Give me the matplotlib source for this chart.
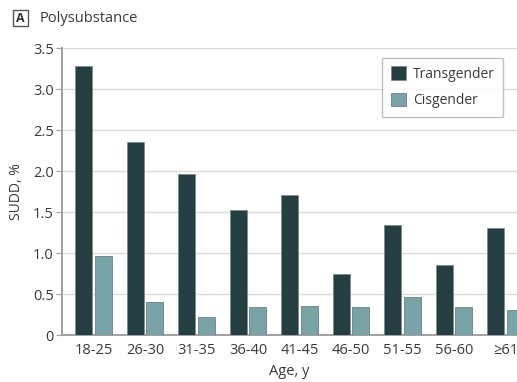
import matplotlib.pyplot as plt
import numpy as np
from matplotlib.patches import Rectangle

plt.rcParams["font.family"] = ["Open Sans", "DejaVu Sans"]

age_groups = ["18-25", "26-30", "31-35", "36-40", "41-45", "46-50", "51-55", "56-60", "\u226561"]
transgender = [3.28, 2.36, 1.96, 1.52, 1.71, 0.75, 1.34, 0.85, 1.30]
cisgender = [0.97, 0.40, 0.22, 0.34, 0.35, 0.34, 0.46, 0.34, 0.30]

text_color = "#3a3a3a"
trans_color = "#253e42"
cis_color = "#7aa3a8"

fig = plt.figure(figsize=(5.17, 3.82), dpi=100)
ax = fig.add_axes([0.12, 0.123, 0.88, 0.751])

x = np.arange(len(age_groups))
width = 0.33
ax.bar(x - 0.19, transgender, width, color=trans_color, edgecolor="#7f8c8d",
       linewidth=0.6, label="Transgender", zorder=3)
ax.bar(x + 0.19, cisgender, width, color=cis_color, edgecolor="#6a7f82",
       linewidth=0.6, label="Cisgender", zorder=3)

ax.set_xlim(-0.61, 8.22)
ax.set_ylim(0, 3.5)
ax.set_yticks(np.arange(0, 3.51, 0.5))
ax.set_yticklabels(["0", "0.5", "1.0", "1.5", "2.0", "2.5", "3.0", "3.5"])
ax.set_xticks(x)
ax.set_xticklabels(age_groups)
ax.grid(axis="y", color="#dcdcdc", linewidth=1.0, zorder=0)

for side in ["top", "right"]:
    ax.spines[side].set_visible(False)
ax.spines["left"].set_color("#a0a0a0")
ax.spines["left"].set_linewidth(1.4)
ax.spines["bottom"].set_color("#a0a0a0")
ax.spines["bottom"].set_linewidth(1.4)
ax.tick_params(axis="y", length=4, color="#a0a0a0", labelsize=10.5, labelcolor=text_color, pad=2)
ax.tick_params(axis="x", length=0, labelsize=10.5, labelcolor=text_color, pad=6)

ax.set_ylabel("SUDD, %", fontsize=10, color=text_color, labelpad=6)
ax.set_xlabel("Age, y", fontsize=10.5, color=text_color, labelpad=4)

leg = ax.legend(loc="upper right", bbox_to_anchor=(0.985, 0.99), frameon=True,
                fancybox=False, edgecolor="#b0b0b0", fontsize=10,
                handlelength=1.1, handleheight=1.1, borderpad=0.6,
                labelspacing=0.8, handletextpad=0.5)
leg.get_frame().set_linewidth(1.0)
for t in leg.get_texts():
    t.set_color(text_color)

# panel label
fig.patches.append(Rectangle((13 / 517, 1 - 26 / 382), 15 / 517, 16 / 382,
                             transform=fig.transFigure, fill=False,
                             edgecolor="#555555", linewidth=1.0))
fig.text(20.5 / 517, 1 - 18 / 382, "A", ha="center", va="center",
         fontsize=9, fontweight="bold", color="#333333")
fig.text(40 / 517, 1 - 18 / 382, "Polysubstance", ha="left", va="center",
         fontsize=10.5, color=text_color)

fig.savefig("out.png", dpi=100)
